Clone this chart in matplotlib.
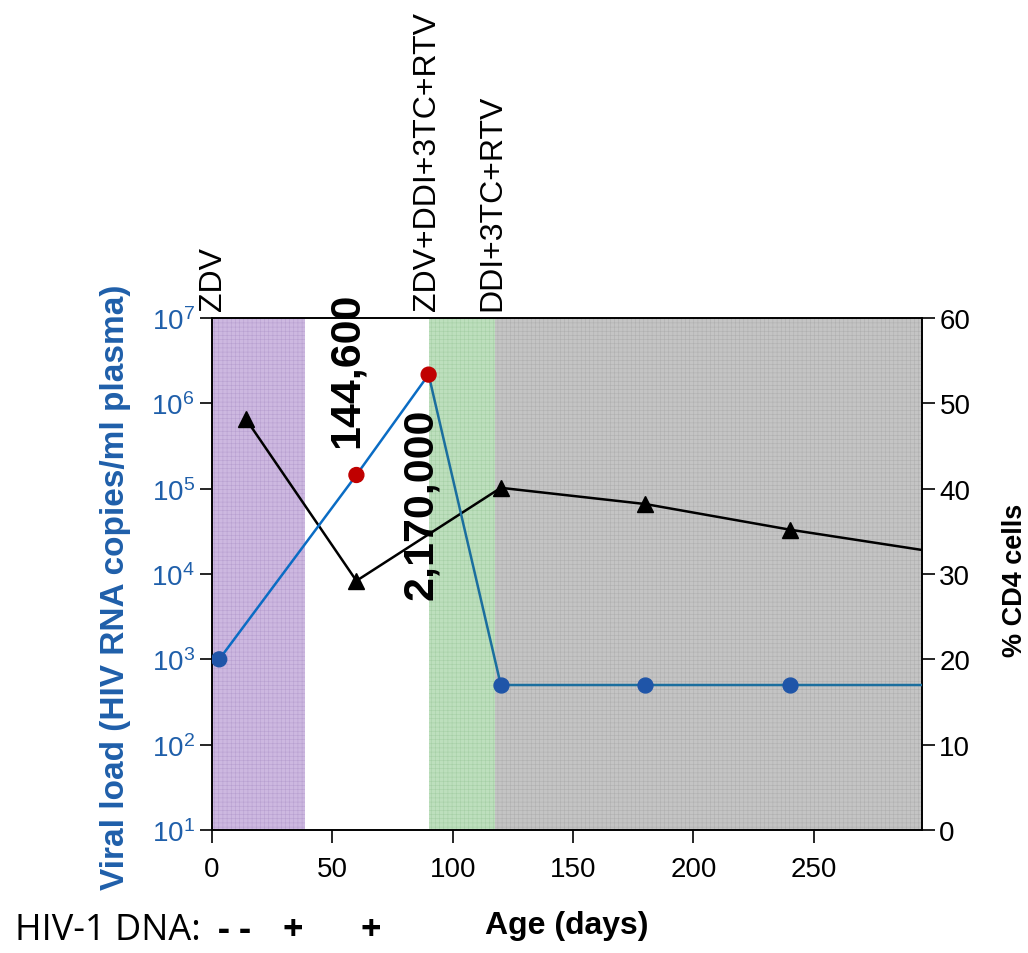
import matplotlib.pyplot as plt
import matplotlib as mpl

plt.rcParams['font.family'] = ['Liberation Sans', 'DejaVu Sans']
mpl.rcParams['hatch.linewidth'] = 0.4

# viral load (copies/ml)
vl_days = [3, 60, 90]
vl_vals = [1e3, 144600, 2170000]
vl_colors = ['#1f55a8', '#c00000', '#c00000']
vl2_days = [90, 120, 180, 240, 300]
vl2_vals = [2170000, 500, 500, 500, 500]

# % CD4 cells
cd4_days = [14, 60, 120, 180, 240, 300]
cd4_vals = [48.2, 29.2, 40.1, 38.2, 35.2, 32.6]

# treatment periods
periods = [(0, 38.6, '#cdb8e0', '#b8a0d0'),
           (90, 117.4, '#bddfbd', '#a6cfa6'),
           (117.4, 295, '#c4c4c4', '#b0b0b0')]
drug_labels = [(0.5, 'ZDV'), (89.5, 'ZDV+DDI+3TC+RTV'), (116.5, 'DDI+3TC+RTV')]

fig = plt.figure(figsize=(10.28, 9.54), dpi=100)
ax = fig.add_axes([212/1028, 1-831/954, 710/1028, 512/954])
ax2 = ax.twinx()

# shading + CD4 on the back axes, viral load on top
for x0, x1, fc, ec in periods:
    ax2.axvspan(x0, x1, facecolor=fc, edgecolor=ec, hatch='++++', lw=0, zorder=0)
ax2.set_ylim(0, 60)
ax2.plot(cd4_days, cd4_vals, color='black', lw=1.8, marker='^', ms=11, zorder=3)

ax.set_yscale('log')
ax.set_ylim(10, 1e7)
ax.set_xlim(0, 295)
ax.plot(vl_days, vl_vals, color='#0a6cc4', lw=1.8, zorder=3)
ax.plot(vl2_days, vl2_vals, color='#1a6e9e', lw=1.8, zorder=3)
ax.scatter(vl_days, vl_vals, c=vl_colors, s=115, zorder=4)
ax.scatter(vl2_days[1:], vl2_vals[1:], color='#1f55a8', s=115, zorder=4)

ax.set_zorder(ax2.get_zorder() + 1)
ax.patch.set_visible(False)

blue = '#1f5faa'
ax.set_xticks([0, 50, 100, 150, 200, 250])
ax.tick_params(axis='x', labelsize=20, length=9, width=1.2, pad=10)
ax.tick_params(axis='y', which='major', labelsize=20, labelcolor=blue, length=9, width=1.2)
ax.tick_params(axis='y', which='minor', length=0)
ax.set_yticks([10**k for k in range(1, 8)])
ax2.set_yticks(range(0, 61, 10))
ax2.tick_params(axis='y', labelsize=20, length=9, width=1.2)
for a in (ax, ax2):
    for s in a.spines.values():
        s.set_linewidth(1.2)

ax.set_ylabel('Viral load (HIV RNA copies/ml plasma)', fontsize=24, fontweight='bold',
              color=blue)
ax.yaxis.set_label_coords(-0.114, 0.475)
ax2.set_ylabel('% CD4 cells', fontsize=19.5, fontweight='bold')
ax2.yaxis.set_label_coords(1.113, 0.49)
ax.set_xlabel('Age (days)', fontsize=23, fontweight='bold', labelpad=20)

for x, t in drug_labels:
    ax.text(x, 1.25e7, t, rotation=90, ha='center', va='bottom', fontsize=23)

ax.text(56, 10**6.40, '144,600', rotation=90, ha='center', va='center',
        fontsize=31, fontweight='bold', zorder=5)
ax.text(86.7, 10**4.83, '2,170,000', rotation=90, ha='center', va='center',
        fontsize=31, fontweight='bold', zorder=5)

dna_font = ['Open Sans', 'DejaVu Sans']
fig.text(15/1028, 1-940/954, 'HIV-1 DNA:', fontsize=26, va='baseline', family=dna_font)
fig.text(218/1028, 1-940/954, '- -', fontsize=26, fontweight='bold', va='baseline', family=dna_font)
fig.text(282/1028, 1-940/954, '+', fontsize=26, fontweight='bold', va='baseline', family=dna_font)
fig.text(361/1028, 1-940/954, '+', fontsize=26, fontweight='bold', va='baseline', family=dna_font)

fig.savefig('out.png', dpi=100)
